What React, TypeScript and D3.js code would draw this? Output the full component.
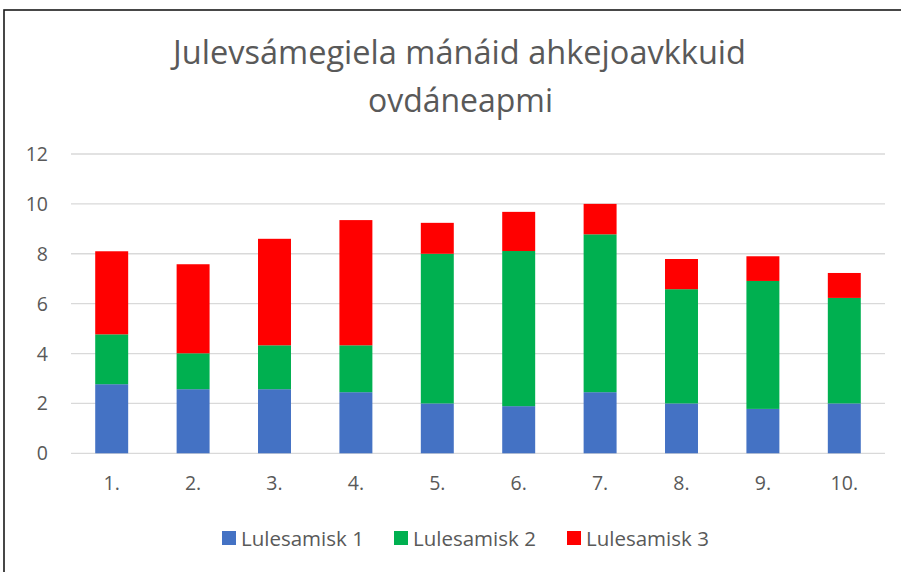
import React from 'react';
import * as d3 from 'd3';

const categories = ["1.", "2.", "3.", "4.", "5.", "6.", "7.", "8.", "9.", "10."];
const seriesNames = ["Lulesamisk 1", "Lulesamisk 2", "Lulesamisk 3"];
const lule1 = [2.77, 2.57, 2.57, 2.45, 2.0, 1.89, 2.45, 2.0, 1.78, 2.0];
const lule2 = [2.0, 1.44, 1.76, 1.88, 6.0, 6.22, 6.33, 4.58, 5.13, 4.23];
const lule3 = [3.33, 3.57, 4.27, 5.02, 1.24, 1.57, 1.22, 1.21, 0.99, 1.0];
const yTicks = [0, 2, 4, 6, 8, 10, 12];
const colors = ["#4472C4", "#00B050", "#FF0000"];
const titleLines = ["Julevsámegiela mánáid ahkejoavkkuid", "ovdáneapmi"];

const font = "'Open Sans', sans-serif";
const textColor = "#595959";

const width = 901;
const height = 572;
const plot = { left: 71, right: 885, top: 154, bottom: 453.3 };

export default function App() {
  const x = d3.scaleBand<string>()
    .domain(categories)
    .range([plot.left, plot.right])
    .paddingInner(0.595)
    .paddingOuter(0.2975);

  const y = d3.scaleLinear().domain([0, 12]).range([plot.bottom, plot.top]);

  const rows = categories.map((c, i) => ({ cat: c, s0: lule1[i], s1: lule2[i], s2: lule3[i] }));
  const stacked = d3.stack<any>().keys(["s0", "s1", "s2"])(rows);

  const legendX = [222, 394, 567];

  return (
    <svg width={width} height={height} style={{ position: 'absolute', left: 0, top: 0 }}>
      <rect x={0} y={0} width={width} height={height} fill="#fff" />
      <rect x={4} y={10} width={width + 20} height={height} fill="none" stroke="#1a1a1a" strokeWidth={1.6} />

      <g className="title" fontFamily={font} fill={textColor} textAnchor="middle">
        <text x={459.5} y={64} fontSize={32} textLength={573} lengthAdjust="spacingAndGlyphs">{titleLines[0]}</text>
        <text x={460.5} y={112} fontSize={32} textLength={185} lengthAdjust="spacingAndGlyphs">{titleLines[1]}</text>
      </g>

      <g className="grid">
        {yTicks.map(t => (
          <line key={t} x1={plot.left} x2={plot.right} y1={y(t)} y2={y(t)} stroke="#D9D9D9" strokeWidth={1.3} />
        ))}
      </g>

      <g className="y-axis" fontFamily={font} fontSize={19.5} fill={textColor} textAnchor="end">
        {yTicks.map(t => (
          <text key={t} x={48} y={y(t)} dy="0.36em">{t}</text>
        ))}
      </g>

      <g className="bars">
        {stacked.map((layer, si) => (
          <g key={layer.key} fill={colors[si]}>
            {layer.map((d, i) => (
              <rect key={i}
                x={x(categories[i])}
                y={y(d[1])}
                width={x.bandwidth()}
                height={y(d[0]) - y(d[1])} />
            ))}
          </g>
        ))}
      </g>

      <g className="x-axis" fontFamily={font} fontSize={19.5} fill={textColor} textAnchor="middle">
        {categories.map(c => (
          <text key={c} x={(x(c) as number) + x.bandwidth() / 2} y={490}>{c}</text>
        ))}
      </g>

      <g className="legend" fontFamily={font} fontSize={20.5} fill={textColor}>
        {seriesNames.map((name, i) => (
          <g key={name} transform={`translate(${legendX[i]},531)`}>
            <rect width={14} height={14} fill={colors[i]} />
            <text x={19} y={14.5}>{name}</text>
          </g>
        ))}
      </g>
    </svg>
  );
}
